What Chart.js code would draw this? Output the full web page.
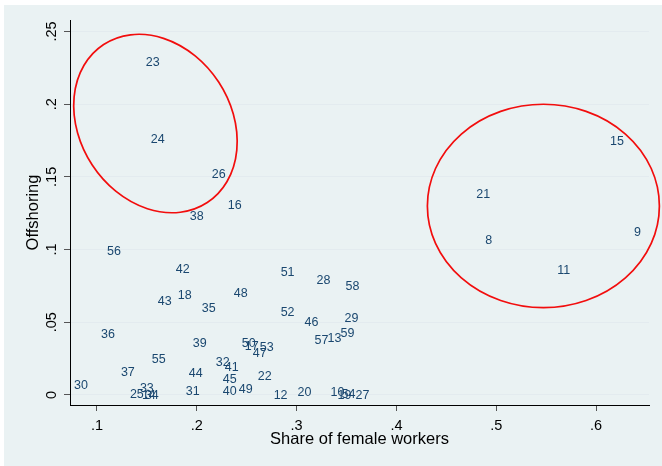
<!DOCTYPE html>
<html>
<head>
<meta charset="utf-8">
<script src="https://cdn.jsdelivr.net/npm/chart.js@4.4.1/dist/chart.umd.min.js"></script>
<style>
  html, body { margin: 0; padding: 0; background: #ffffff; }
  #panel { position: absolute; left: 4px; top: 5px; width: 658px; height: 461px; background: #eaf2f3; }
  canvas { display: block; }
</style>
</head>
<body>
<div id="panel"><canvas id="chart" width="658" height="461"></canvas></div>
<script>
// Industry identifiers, plotted as their own marker labels
const industryIds = [8, 9, 10, 11, 12, 13, 14, 15, 16, 17, 18, 19, 20, 21, 22, 23, 24, 25, 26, 27,
  28, 29, 30, 31, 32, 33, 34, 35, 36, 37, 38, 39, 40, 41, 42, 43, 44, 45, 46, 47,
  48, 49, 50, 51, 52, 53, 54, 55, 56, 57, 58, 59];

// Share of female workers in each industry
const femaleShare = [0.486, 0.635, 0.331, 0.558, 0.274, 0.328, 0.142, 0.611, 0.228, 0.245, 0.178, 0.338, 0.298, 0.477, 0.258, 0.146, 0.151, 0.130, 0.212, 0.356,
  0.317, 0.345, 0.074, 0.186, 0.216, 0.140, 0.145, 0.202, 0.101, 0.121, 0.190, 0.193, 0.223, 0.225, 0.176, 0.158, 0.189, 0.223, 0.305, 0.253,
  0.234, 0.239, 0.242, 0.281, 0.281, 0.260, 0.342, 0.152, 0.107, 0.315, 0.346, 0.341];

// Offshoring intensity in each industry
const offshoring = [0.107, 0.112, 0.002, 0.086, 0.000, 0.039, 0.000, 0.175, 0.131, 0.034, 0.069, 0.000, 0.002, 0.138, 0.013, 0.229, 0.176, 0.001, 0.152, 0.000,
  0.079, 0.053, 0.007, 0.003, 0.023, 0.005, 0.000, 0.060, 0.042, 0.016, 0.123, 0.036, 0.003, 0.019, 0.087, 0.065, 0.015, 0.011, 0.050, 0.029,
  0.070, 0.004, 0.036, 0.085, 0.057, 0.033, 0.001, 0.025, 0.099, 0.038, 0.075, 0.043];

const xTicks = [0.1, 0.2, 0.3, 0.4, 0.5, 0.6];
const xTickLabels = ['.1', '.2', '.3', '.4', '.5', '.6'];
const yTicks = [0, 0.05, 0.1, 0.15, 0.2, 0.25];
const yTickLabels = ['0', '.05', '.1', '.15', '.2', '.25'];

const FONT = '"Liberation Sans", Arial, Helvetica, sans-serif';

// Highlighted groups: centre in data units, outline drawn as an ellipse
const highlightGroups = [
  { x: 0.1586, y: 0.1867, rx: 94.5, ry: 75.6, angle: 56.75 },
  { x: 0.5472, y: 0.1300, rx: 116, ry: 101.7, angle: 0 }
];

// Write each industry id just to the right of its (invisible) marker
const markerLabels = {
  id: 'markerLabels',
  afterDatasetsDraw(chart) {
    const ctx = chart.ctx;
    const meta = chart.getDatasetMeta(0);
    ctx.save();
    ctx.font = '12.5px ' + FONT;
    ctx.fillStyle = '#1a476f';
    ctx.textAlign = 'left';
    ctx.textBaseline = 'middle';
    meta.data.forEach((pt, i) => {
      ctx.fillText(String(industryIds[i]), pt.x + 3, pt.y + 0.7);
    });
    ctx.restore();
  }
};

// Red outlines around the two groups of industries
const groupOutlines = {
  id: 'groupOutlines',
  afterDraw(chart) {
    const ctx = chart.ctx;
    const xs = chart.scales.x, ys = chart.scales.y;
    ctx.save();
    ctx.strokeStyle = '#f20d0d';
    ctx.lineWidth = 1.7;
    highlightGroups.forEach(g => {
      ctx.beginPath();
      ctx.ellipse(xs.getPixelForValue(g.x), ys.getPixelForValue(g.y), g.rx, g.ry, g.angle * Math.PI / 180, 0, Math.PI * 2);
      ctx.stroke();
    });
    ctx.restore();
  }
};

new Chart(document.getElementById('chart'), {
  type: 'scatter',
  data: {
    datasets: [{
      data: femaleShare.map((v, i) => ({ x: v, y: offshoring[i] })),
      pointRadius: 0,
      pointHoverRadius: 0
    }]
  },
  options: {
    responsive: false,
    devicePixelRatio: 1,
    animation: false,
    events: [],
    layout: { padding: { left: 0, top: 15, right: 13, bottom: 0 } },
    plugins: { legend: { display: false }, tooltip: { enabled: false } },
    scales: {
      x: {
        type: 'linear',
        min: 0.073,
        max: 0.653,
        afterBuildTicks: s => { s.ticks = xTicks.map(v => ({ value: v })); },
        afterFit: s => { s.height = 61; },
        grid: { drawOnChartArea: false, drawTicks: true, tickLength: 6, tickColor: '#555555' },
        border: { display: true, color: '#000000', width: 1 },
        ticks: {
          autoSkip: false, maxRotation: 0, minRotation: 0, padding: 6,
          color: '#000000', font: { family: FONT, size: 14.5 },
          callback: v => xTickLabels[xTicks.indexOf(v)]
        },
        title: {
          display: true, text: 'Share of female workers', color: '#000000',
          font: { family: FONT, size: 16.5 }, padding: { top: 0, bottom: 17 }
        }
      },
      y: {
        type: 'linear',
        min: -0.0069,
        max: 0.2579,
        afterBuildTicks: s => { s.ticks = yTicks.map(v => ({ value: v })); },
        afterFit: s => { s.width = 66; },
        grid: { drawOnChartArea: true, color: '#e3ebef', lineWidth: 1, drawTicks: true, tickLength: 6, tickColor: '#555555' },
        border: { display: true, color: '#000000', width: 1 },
        ticks: {
          autoSkip: false, minRotation: 90, maxRotation: 90, crossAlign: 'center', padding: 2,
          color: '#000000', font: { family: FONT, size: 14.5 },
          callback: v => yTickLabels[yTicks.indexOf(v)]
        },
        title: {
          display: true, text: 'Offshoring', color: '#000000',
          font: { family: FONT, size: 16.5 }, padding: { top: 19.5, bottom: 0 }
        }
      }
    }
  },
  plugins: [markerLabels, groupOutlines]
});
</script>
</body>
</html>
